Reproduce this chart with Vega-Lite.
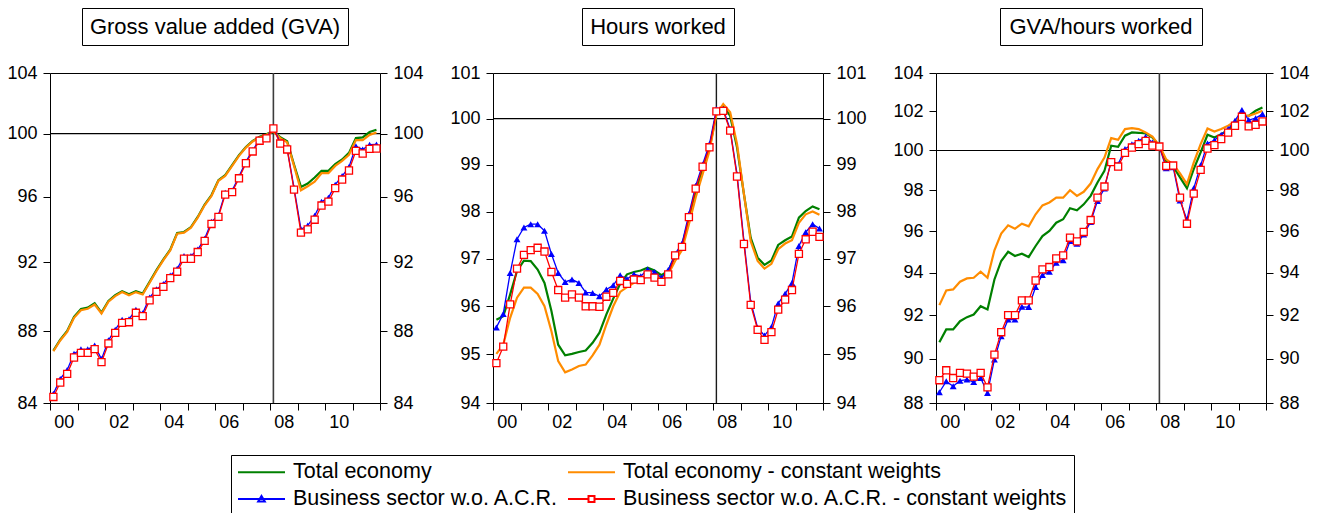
{
"$schema": "https://vega.github.io/schema/vega-lite/v6.json",
"background": "white",
"padding": {"left": 6, "top": 7, "right": 5, "bottom": 0},
"config": {
  "font": "Liberation Sans",
  "view": {"stroke": "black", "strokeWidth": 1},
  "axis": {"labelFont": "Liberation Sans", "labelFontSize": 18, "labelColor": "black", "tickColor": "black", "tickSize": 7, "tickWidth": 1, "domain": false, "grid": false, "title": null, "labelOverlap": false, "labelFlush": false, "labelPadding": 6}
},
"datasets": {
"g_te": [{"series":"Total economy","date":"2000-02-15","value":86.90},{"series":"Total economy","date":"2000-05-16","value":87.52},{"series":"Total economy","date":"2000-08-16","value":88.01},{"series":"Total economy","date":"2000-11-15","value":88.82},{"series":"Total economy","date":"2001-02-15","value":89.27},{"series":"Total economy","date":"2001-05-16","value":89.35},{"series":"Total economy","date":"2001-08-16","value":89.60},{"series":"Total economy","date":"2001-11-15","value":89.06},{"series":"Total economy","date":"2002-02-15","value":89.74},{"series":"Total economy","date":"2002-05-16","value":90.07},{"series":"Total economy","date":"2002-08-16","value":90.30},{"series":"Total economy","date":"2002-11-15","value":90.12},{"series":"Total economy","date":"2003-02-15","value":90.30},{"series":"Total economy","date":"2003-05-16","value":90.16},{"series":"Total economy","date":"2003-08-16","value":90.85},{"series":"Total economy","date":"2003-11-15","value":91.54},{"series":"Total economy","date":"2004-02-15","value":92.18},{"series":"Total economy","date":"2004-05-16","value":92.76},{"series":"Total economy","date":"2004-08-16","value":93.77},{"series":"Total economy","date":"2004-11-15","value":93.83},{"series":"Total economy","date":"2005-02-15","value":94.13},{"series":"Total economy","date":"2005-05-16","value":94.75},{"series":"Total economy","date":"2005-08-16","value":95.51},{"series":"Total economy","date":"2005-11-15","value":96.10},{"series":"Total economy","date":"2006-02-15","value":97.03},{"series":"Total economy","date":"2006-05-16","value":97.35},{"series":"Total economy","date":"2006-08-16","value":97.98},{"series":"Total economy","date":"2006-11-15","value":98.62},{"series":"Total economy","date":"2007-02-15","value":99.14},{"series":"Total economy","date":"2007-05-16","value":99.53},{"series":"Total economy","date":"2007-08-16","value":99.79},{"series":"Total economy","date":"2007-11-15","value":99.96},{"series":"Total economy","date":"2008-02-15","value":100.18},{"series":"Total economy","date":"2008-05-16","value":99.76},{"series":"Total economy","date":"2008-08-16","value":99.50},{"series":"Total economy","date":"2008-11-15","value":98.02},{"series":"Total economy","date":"2009-02-15","value":96.61},{"series":"Total economy","date":"2009-05-16","value":96.82},{"series":"Total economy","date":"2009-08-16","value":97.20},{"series":"Total economy","date":"2009-11-15","value":97.62},{"series":"Total economy","date":"2010-02-15","value":97.62},{"series":"Total economy","date":"2010-05-16","value":98.04},{"series":"Total economy","date":"2010-08-16","value":98.34},{"series":"Total economy","date":"2010-11-15","value":98.76},{"series":"Total economy","date":"2011-02-15","value":99.71},{"series":"Total economy","date":"2011-05-16","value":99.75},{"series":"Total economy","date":"2011-08-16","value":100.10},{"series":"Total economy","date":"2011-11-15","value":100.25}],
"g_tec": [{"date":"2000-02-15","value":86.86},{"date":"2000-05-16","value":87.47},{"date":"2000-08-16","value":87.96},{"date":"2000-11-15","value":88.76},{"date":"2001-02-15","value":89.20},{"date":"2001-05-16","value":89.28},{"date":"2001-08-16","value":89.53},{"date":"2001-11-15","value":89.01},{"date":"2002-02-15","value":89.69},{"date":"2002-05-16","value":90.02},{"date":"2002-08-16","value":90.25},{"date":"2002-11-15","value":90.06},{"date":"2003-02-15","value":90.25},{"date":"2003-05-16","value":90.11},{"date":"2003-08-16","value":90.80},{"date":"2003-11-15","value":91.49},{"date":"2004-02-15","value":92.14},{"date":"2004-05-16","value":92.72},{"date":"2004-08-16","value":93.73},{"date":"2004-11-15","value":93.79},{"date":"2005-02-15","value":94.09},{"date":"2005-05-16","value":94.71},{"date":"2005-08-16","value":95.47},{"date":"2005-11-15","value":96.05},{"date":"2006-02-15","value":96.99},{"date":"2006-05-16","value":97.30},{"date":"2006-08-16","value":97.93},{"date":"2006-11-15","value":98.57},{"date":"2007-02-15","value":99.10},{"date":"2007-05-16","value":99.49},{"date":"2007-08-16","value":99.75},{"date":"2007-11-15","value":99.92},{"date":"2008-02-15","value":100.14},{"date":"2008-05-16","value":99.71},{"date":"2008-08-16","value":99.43},{"date":"2008-11-15","value":97.93},{"date":"2009-02-15","value":96.40},{"date":"2009-05-16","value":96.65},{"date":"2009-08-16","value":96.94},{"date":"2009-11-15","value":97.47},{"date":"2010-02-15","value":97.47},{"date":"2010-05-16","value":97.93},{"date":"2010-08-16","value":98.25},{"date":"2010-11-15","value":98.64},{"date":"2011-02-15","value":99.58},{"date":"2011-05-16","value":99.58},{"date":"2011-08-16","value":99.92},{"date":"2011-11-15","value":100.07}],
"g_bs": [{"date":"2000-02-15","value":84.50},{"date":"2000-05-16","value":85.32},{"date":"2000-08-16","value":85.82},{"date":"2000-11-15","value":86.72},{"date":"2001-02-15","value":86.97},{"date":"2001-05-16","value":86.97},{"date":"2001-08-16","value":87.18},{"date":"2001-11-15","value":86.42},{"date":"2002-02-15","value":87.48},{"date":"2002-05-16","value":88.08},{"date":"2002-08-16","value":88.65},{"date":"2002-11-15","value":88.68},{"date":"2003-02-15","value":89.22},{"date":"2003-05-16","value":89.02},{"date":"2003-08-16","value":89.93},{"date":"2003-11-15","value":90.42},{"date":"2004-02-15","value":90.72},{"date":"2004-05-16","value":91.22},{"date":"2004-08-16","value":91.62},{"date":"2004-11-15","value":92.38},{"date":"2005-02-15","value":92.38},{"date":"2005-05-16","value":92.77},{"date":"2005-08-16","value":93.42},{"date":"2005-11-15","value":94.45},{"date":"2006-02-15","value":94.86},{"date":"2006-05-16","value":96.25},{"date":"2006-08-16","value":96.38},{"date":"2006-11-15","value":97.26},{"date":"2007-02-15","value":98.20},{"date":"2007-05-16","value":98.93},{"date":"2007-08-16","value":99.62},{"date":"2007-11-15","value":99.76},{"date":"2008-02-15","value":100.40},{"date":"2008-05-16","value":99.42},{"date":"2008-08-16","value":99.04},{"date":"2008-11-15","value":96.55},{"date":"2009-02-15","value":94.00},{"date":"2009-05-16","value":94.22},{"date":"2009-08-16","value":94.82},{"date":"2009-11-15","value":95.68},{"date":"2010-02-15","value":95.93},{"date":"2010-05-16","value":96.75},{"date":"2010-08-16","value":97.29},{"date":"2010-11-15","value":97.86},{"date":"2011-02-15","value":99.18},{"date":"2011-05-16","value":98.98},{"date":"2011-08-16","value":99.28},{"date":"2011-11-15","value":99.30}],
"g_bsc": [{"date":"2000-02-15","value":84.33},{"date":"2000-05-16","value":85.12},{"date":"2000-08-16","value":85.60},{"date":"2000-11-15","value":86.51},{"date":"2001-02-15","value":86.77},{"date":"2001-05-16","value":86.77},{"date":"2001-08-16","value":86.98},{"date":"2001-11-15","value":86.25},{"date":"2002-02-15","value":87.30},{"date":"2002-05-16","value":87.90},{"date":"2002-08-16","value":88.47},{"date":"2002-11-15","value":88.51},{"date":"2003-02-15","value":89.05},{"date":"2003-05-16","value":88.86},{"date":"2003-08-16","value":89.77},{"date":"2003-11-15","value":90.27},{"date":"2004-02-15","value":90.56},{"date":"2004-05-16","value":91.07},{"date":"2004-08-16","value":91.45},{"date":"2004-11-15","value":92.22},{"date":"2005-02-15","value":92.22},{"date":"2005-05-16","value":92.62},{"date":"2005-08-16","value":93.29},{"date":"2005-11-15","value":94.32},{"date":"2006-02-15","value":94.75},{"date":"2006-05-16","value":96.13},{"date":"2006-08-16","value":96.28},{"date":"2006-11-15","value":97.15},{"date":"2007-02-15","value":98.10},{"date":"2007-05-16","value":98.85},{"date":"2007-08-16","value":99.54},{"date":"2007-11-15","value":99.69},{"date":"2008-02-15","value":100.33},{"date":"2008-05-16","value":99.36},{"date":"2008-08-16","value":98.98},{"date":"2008-11-15","value":96.44},{"date":"2009-02-15","value":93.79},{"date":"2009-05-16","value":93.99},{"date":"2009-08-16","value":94.58},{"date":"2009-11-15","value":95.45},{"date":"2010-02-15","value":95.69},{"date":"2010-05-16","value":96.53},{"date":"2010-08-16","value":97.07},{"date":"2010-11-15","value":97.64},{"date":"2011-02-15","value":98.89},{"date":"2011-05-16","value":98.72},{"date":"2011-08-16","value":99.02},{"date":"2011-11-15","value":99.04}],
"h_te": [{"date":"2000-02-15","value":95.72},{"date":"2000-05-16","value":95.79},{"date":"2000-08-16","value":96.25},{"date":"2000-11-15","value":96.74},{"date":"2001-02-15","value":96.96},{"date":"2001-05-16","value":96.95},{"date":"2001-08-16","value":96.77},{"date":"2001-11-15","value":96.49},{"date":"2002-02-15","value":95.90},{"date":"2002-05-16","value":95.20},{"date":"2002-08-16","value":94.98},{"date":"2002-11-15","value":95.01},{"date":"2003-02-15","value":95.05},{"date":"2003-05-16","value":95.08},{"date":"2003-08-16","value":95.24},{"date":"2003-11-15","value":95.45},{"date":"2004-02-15","value":95.83},{"date":"2004-05-16","value":96.16},{"date":"2004-08-16","value":96.47},{"date":"2004-11-15","value":96.67},{"date":"2005-02-15","value":96.72},{"date":"2005-05-16","value":96.75},{"date":"2005-08-16","value":96.81},{"date":"2005-11-15","value":96.75},{"date":"2006-02-15","value":96.65},{"date":"2006-05-16","value":96.74},{"date":"2006-08-16","value":97.05},{"date":"2006-11-15","value":97.27},{"date":"2007-02-15","value":97.83},{"date":"2007-05-16","value":98.41},{"date":"2007-08-16","value":98.91},{"date":"2007-11-15","value":99.36},{"date":"2008-02-15","value":100.10},{"date":"2008-05-16","value":100.28},{"date":"2008-08-16","value":100.06},{"date":"2008-11-15","value":99.38},{"date":"2009-02-15","value":98.37},{"date":"2009-05-16","value":97.44},{"date":"2009-08-16","value":97.02},{"date":"2009-11-15","value":96.87},{"date":"2010-02-15","value":96.96},{"date":"2010-05-16","value":97.29},{"date":"2010-08-16","value":97.39},{"date":"2010-11-15","value":97.47},{"date":"2011-02-15","value":97.87},{"date":"2011-05-16","value":98.01},{"date":"2011-08-16","value":98.11},{"date":"2011-11-15","value":98.05}],
"h_tec": [{"date":"2000-02-15","value":95.01},{"date":"2000-05-16","value":95.20},{"date":"2000-08-16","value":95.76},{"date":"2000-11-15","value":96.18},{"date":"2001-02-15","value":96.39},{"date":"2001-05-16","value":96.39},{"date":"2001-08-16","value":96.26},{"date":"2001-11-15","value":96.00},{"date":"2002-02-15","value":95.48},{"date":"2002-05-16","value":94.86},{"date":"2002-08-16","value":94.63},{"date":"2002-11-15","value":94.69},{"date":"2003-02-15","value":94.76},{"date":"2003-05-16","value":94.79},{"date":"2003-08-16","value":94.98},{"date":"2003-11-15","value":95.20},{"date":"2004-02-15","value":95.62},{"date":"2004-05-16","value":96.00},{"date":"2004-08-16","value":96.30},{"date":"2004-11-15","value":96.40},{"date":"2005-02-15","value":96.49},{"date":"2005-05-16","value":96.56},{"date":"2005-08-16","value":96.63},{"date":"2005-11-15","value":96.63},{"date":"2006-02-15","value":96.60},{"date":"2006-05-16","value":96.67},{"date":"2006-08-16","value":96.95},{"date":"2006-11-15","value":97.18},{"date":"2007-02-15","value":97.73},{"date":"2007-05-16","value":98.30},{"date":"2007-08-16","value":98.80},{"date":"2007-11-15","value":99.30},{"date":"2008-02-15","value":100.10},{"date":"2008-05-16","value":100.32},{"date":"2008-08-16","value":100.14},{"date":"2008-11-15","value":99.45},{"date":"2009-02-15","value":98.37},{"date":"2009-05-16","value":97.37},{"date":"2009-08-16","value":96.95},{"date":"2009-11-15","value":96.79},{"date":"2010-02-15","value":96.89},{"date":"2010-05-16","value":97.20},{"date":"2010-08-16","value":97.32},{"date":"2010-11-15","value":97.39},{"date":"2011-02-15","value":97.76},{"date":"2011-05-16","value":97.94},{"date":"2011-08-16","value":98.00},{"date":"2011-11-15","value":97.93}],
"h_bs": [{"date":"2000-02-15","value":95.56},{"date":"2000-05-16","value":95.84},{"date":"2000-08-16","value":96.70},{"date":"2000-11-15","value":97.41},{"date":"2001-02-15","value":97.66},{"date":"2001-05-16","value":97.73},{"date":"2001-08-16","value":97.73},{"date":"2001-11-15","value":97.59},{"date":"2002-02-15","value":97.10},{"date":"2002-05-16","value":96.70},{"date":"2002-08-16","value":96.51},{"date":"2002-11-15","value":96.56},{"date":"2003-02-15","value":96.49},{"date":"2003-05-16","value":96.29},{"date":"2003-08-16","value":96.28},{"date":"2003-11-15","value":96.21},{"date":"2004-02-15","value":96.35},{"date":"2004-05-16","value":96.44},{"date":"2004-08-16","value":96.65},{"date":"2004-11-15","value":96.57},{"date":"2005-02-15","value":96.67},{"date":"2005-05-16","value":96.63},{"date":"2005-08-16","value":96.77},{"date":"2005-11-15","value":96.72},{"date":"2006-02-15","value":96.60},{"date":"2006-05-16","value":96.76},{"date":"2006-08-16","value":97.10},{"date":"2006-11-15","value":97.32},{"date":"2007-02-15","value":97.95},{"date":"2007-05-16","value":98.55},{"date":"2007-08-16","value":99.01},{"date":"2007-11-15","value":99.45},{"date":"2008-02-15","value":100.21},{"date":"2008-05-16","value":100.21},{"date":"2008-08-16","value":99.77},{"date":"2008-11-15","value":98.80},{"date":"2009-02-15","value":97.37},{"date":"2009-05-16","value":96.09},{"date":"2009-08-16","value":95.55},{"date":"2009-11-15","value":95.39},{"date":"2010-02-15","value":95.57},{"date":"2010-05-16","value":96.06},{"date":"2010-08-16","value":96.26},{"date":"2010-11-15","value":96.49},{"date":"2011-02-15","value":97.27},{"date":"2011-05-16","value":97.56},{"date":"2011-08-16","value":97.73},{"date":"2011-11-15","value":97.64}],
"h_bsc": [{"date":"2000-02-15","value":94.82},{"date":"2000-05-16","value":95.16},{"date":"2000-08-16","value":96.04},{"date":"2000-11-15","value":96.79},{"date":"2001-02-15","value":97.08},{"date":"2001-05-16","value":97.18},{"date":"2001-08-16","value":97.23},{"date":"2001-11-15","value":97.15},{"date":"2002-02-15","value":96.72},{"date":"2002-05-16","value":96.34},{"date":"2002-08-16","value":96.18},{"date":"2002-11-15","value":96.25},{"date":"2003-02-15","value":96.18},{"date":"2003-05-16","value":96.00},{"date":"2003-08-16","value":96.00},{"date":"2003-11-15","value":95.99},{"date":"2004-02-15","value":96.20},{"date":"2004-05-16","value":96.28},{"date":"2004-08-16","value":96.53},{"date":"2004-11-15","value":96.47},{"date":"2005-02-15","value":96.56},{"date":"2005-05-16","value":96.55},{"date":"2005-08-16","value":96.67},{"date":"2005-11-15","value":96.60},{"date":"2006-02-15","value":96.51},{"date":"2006-05-16","value":96.67},{"date":"2006-08-16","value":97.07},{"date":"2006-11-15","value":97.25},{"date":"2007-02-15","value":97.88},{"date":"2007-05-16","value":98.49},{"date":"2007-08-16","value":98.96},{"date":"2007-11-15","value":99.38},{"date":"2008-02-15","value":100.16},{"date":"2008-05-16","value":100.17},{"date":"2008-08-16","value":99.74},{"date":"2008-11-15","value":98.75},{"date":"2009-02-15","value":97.31},{"date":"2009-05-16","value":96.03},{"date":"2009-08-16","value":95.51},{"date":"2009-11-15","value":95.30},{"date":"2010-02-15","value":95.46},{"date":"2010-05-16","value":95.93},{"date":"2010-08-16","value":96.14},{"date":"2010-11-15","value":96.34},{"date":"2011-02-15","value":97.10},{"date":"2011-05-16","value":97.41},{"date":"2011-08-16","value":97.57},{"date":"2011-11-15","value":97.46}],
"p_te": [{"date":"2000-02-15","value":90.75},{"date":"2000-05-16","value":91.34},{"date":"2000-08-16","value":91.34},{"date":"2000-11-15","value":91.72},{"date":"2001-02-15","value":91.91},{"date":"2001-05-16","value":92.03},{"date":"2001-08-16","value":92.42},{"date":"2001-11-15","value":92.27},{"date":"2002-02-15","value":93.68},{"date":"2002-05-16","value":94.56},{"date":"2002-08-16","value":95.00},{"date":"2002-11-15","value":94.80},{"date":"2003-02-15","value":94.91},{"date":"2003-05-16","value":94.75},{"date":"2003-08-16","value":95.28},{"date":"2003-11-15","value":95.76},{"date":"2004-02-15","value":96.01},{"date":"2004-05-16","value":96.41},{"date":"2004-08-16","value":96.58},{"date":"2004-11-15","value":97.12},{"date":"2005-02-15","value":97.02},{"date":"2005-05-16","value":97.31},{"date":"2005-08-16","value":97.73},{"date":"2005-11-15","value":98.39},{"date":"2006-02-15","value":98.97},{"date":"2006-05-16","value":100.24},{"date":"2006-08-16","value":100.19},{"date":"2006-11-15","value":100.75},{"date":"2007-02-15","value":100.92},{"date":"2007-05-16","value":100.90},{"date":"2007-08-16","value":100.87},{"date":"2007-11-15","value":100.66},{"date":"2008-02-15","value":100.24},{"date":"2008-05-16","value":99.45},{"date":"2008-08-16","value":99.20},{"date":"2008-11-15","value":98.65},{"date":"2009-02-15","value":98.11},{"date":"2009-05-16","value":99.06},{"date":"2009-08-16","value":99.90},{"date":"2009-11-15","value":100.80},{"date":"2010-02-15","value":100.66},{"date":"2010-05-16","value":100.83},{"date":"2010-08-16","value":101.04},{"date":"2010-11-15","value":101.38},{"date":"2011-02-15","value":101.77},{"date":"2011-05-16","value":101.77},{"date":"2011-08-16","value":102.03},{"date":"2011-11-15","value":102.20}],
"p_tec": [{"date":"2000-02-15","value":92.47},{"date":"2000-05-16","value":93.16},{"date":"2000-08-16","value":93.21},{"date":"2000-11-15","value":93.57},{"date":"2001-02-15","value":93.73},{"date":"2001-05-16","value":93.76},{"date":"2001-08-16","value":94.05},{"date":"2001-11-15","value":93.76},{"date":"2002-02-15","value":95.07},{"date":"2002-05-16","value":95.88},{"date":"2002-08-16","value":96.28},{"date":"2002-11-15","value":96.12},{"date":"2003-02-15","value":96.36},{"date":"2003-05-16","value":96.23},{"date":"2003-08-16","value":96.82},{"date":"2003-11-15","value":97.26},{"date":"2004-02-15","value":97.40},{"date":"2004-05-16","value":97.64},{"date":"2004-08-16","value":97.64},{"date":"2004-11-15","value":98.01},{"date":"2005-02-15","value":97.73},{"date":"2005-05-16","value":97.93},{"date":"2005-08-16","value":98.34},{"date":"2005-11-15","value":99.06},{"date":"2006-02-15","value":99.64},{"date":"2006-05-16","value":100.63},{"date":"2006-08-16","value":100.54},{"date":"2006-11-15","value":101.09},{"date":"2007-02-15","value":101.14},{"date":"2007-05-16","value":101.09},{"date":"2007-08-16","value":100.92},{"date":"2007-11-15","value":100.70},{"date":"2008-02-15","value":100.24},{"date":"2008-05-16","value":99.55},{"date":"2008-08-16","value":99.30},{"date":"2008-11-15","value":98.85},{"date":"2009-02-15","value":98.31},{"date":"2009-05-16","value":99.39},{"date":"2009-08-16","value":100.32},{"date":"2009-11-15","value":101.12},{"date":"2010-02-15","value":100.96},{"date":"2010-05-16","value":101.09},{"date":"2010-08-16","value":101.26},{"date":"2010-11-15","value":101.48},{"date":"2011-02-15","value":101.77},{"date":"2011-05-16","value":101.77},{"date":"2011-08-16","value":101.89},{"date":"2011-11-15","value":102.03}],
"p_bs": [{"date":"2000-02-15","value":88.48},{"date":"2000-05-16","value":88.97},{"date":"2000-08-16","value":88.75},{"date":"2000-11-15","value":89.00},{"date":"2001-02-15","value":89.05},{"date":"2001-05-16","value":88.94},{"date":"2001-08-16","value":89.12},{"date":"2001-11-15","value":88.45},{"date":"2002-02-15","value":89.96},{"date":"2002-05-16","value":91.03},{"date":"2002-08-16","value":91.80},{"date":"2002-11-15","value":91.80},{"date":"2003-02-15","value":92.39},{"date":"2003-05-16","value":92.38},{"date":"2003-08-16","value":93.32},{"date":"2003-11-15","value":93.89},{"date":"2004-02-15","value":94.05},{"date":"2004-05-16","value":94.48},{"date":"2004-08-16","value":94.60},{"date":"2004-11-15","value":95.52},{"date":"2005-02-15","value":95.39},{"date":"2005-05-16","value":95.84},{"date":"2005-08-16","value":96.45},{"date":"2005-11-15","value":97.48},{"date":"2006-02-15","value":98.09},{"date":"2006-05-16","value":99.48},{"date":"2006-08-16","value":99.31},{"date":"2006-11-15","value":100.07},{"date":"2007-02-15","value":100.32},{"date":"2007-05-16","value":100.49},{"date":"2007-08-16","value":100.70},{"date":"2007-11-15","value":100.41},{"date":"2008-02-15","value":100.18},{"date":"2008-05-16","value":99.11},{"date":"2008-08-16","value":99.16},{"date":"2008-11-15","value":97.50},{"date":"2009-02-15","value":96.55},{"date":"2009-05-16","value":98.10},{"date":"2009-08-16","value":99.25},{"date":"2009-11-15","value":100.35},{"date":"2010-02-15","value":100.52},{"date":"2010-05-16","value":100.80},{"date":"2010-08-16","value":101.09},{"date":"2010-11-15","value":101.52},{"date":"2011-02-15","value":102.07},{"date":"2011-05-16","value":101.55},{"date":"2011-08-16","value":101.65},{"date":"2011-11-15","value":101.86}],
"p_bsc": [{"date":"2000-02-15","value":89.02},{"date":"2000-05-16","value":89.47},{"date":"2000-08-16","value":89.12},{"date":"2000-11-15","value":89.35},{"date":"2001-02-15","value":89.32},{"date":"2001-05-16","value":89.18},{"date":"2001-08-16","value":89.35},{"date":"2001-11-15","value":88.70},{"date":"2002-02-15","value":90.18},{"date":"2002-05-16","value":91.21},{"date":"2002-08-16","value":92.00},{"date":"2002-11-15","value":92.00},{"date":"2003-02-15","value":92.69},{"date":"2003-05-16","value":92.69},{"date":"2003-08-16","value":93.63},{"date":"2003-11-15","value":94.16},{"date":"2004-02-15","value":94.27},{"date":"2004-05-16","value":94.68},{"date":"2004-08-16","value":94.83},{"date":"2004-11-15","value":95.68},{"date":"2005-02-15","value":95.50},{"date":"2005-05-16","value":95.96},{"date":"2005-08-16","value":96.54},{"date":"2005-11-15","value":97.64},{"date":"2006-02-15","value":98.19},{"date":"2006-05-16","value":99.41},{"date":"2006-08-16","value":99.19},{"date":"2006-11-15","value":99.88},{"date":"2007-02-15","value":100.15},{"date":"2007-05-16","value":100.32},{"date":"2007-08-16","value":100.49},{"date":"2007-11-15","value":100.25},{"date":"2008-02-15","value":100.20},{"date":"2008-05-16","value":99.22},{"date":"2008-08-16","value":99.24},{"date":"2008-11-15","value":97.64},{"date":"2009-02-15","value":96.36},{"date":"2009-05-16","value":97.84},{"date":"2009-08-16","value":99.02},{"date":"2009-11-15","value":100.10},{"date":"2010-02-15","value":100.27},{"date":"2010-05-16","value":100.58},{"date":"2010-08-16","value":100.91},{"date":"2010-11-15","value":101.26},{"date":"2011-02-15","value":101.72},{"date":"2011-05-16","value":101.23},{"date":"2011-08-16","value":101.31},{"date":"2011-11-15","value":101.48}]
},
"spacing": 25,
"hconcat": [
{
 "spacing": 28, "bounds": "flush", "center": true,
 "vconcat": [
  {"width": 266, "height": 37, "view": {"stroke": "black"}, "data": {"values": [{"title": "Gross value added (GVA)"}]}, "mark": {"type": "text", "font": "Liberation Sans", "fontSize": 22, "color": "black"}, "encoding": {"text": {"field": "title"}}},
  {"width": 330, "height": 330,
   "resolve": {"axis": {"x": "independent", "y": "independent"}},
   "layer": [
    {"data": {"values": [{"ref": 100}]}, "mark": {"type": "rule", "color": "black", "strokeWidth": 1.2}, "encoding": {"y": {"field": "ref", "type": "quantitative", "scale": {"type": "log", "domain": [84, 104], "nice": false}, "axis": {"orient": "left", "values": [84, 88, 92, 96, 100, 104], "format": "d"}}}},
    {"data": {"values": [{"date": "2008-02-15"}]}, "mark": {"type": "rule", "color": "#3c3c3c", "strokeWidth": 1.6}, "encoding": {"x": {"field": "date", "type": "temporal", "scale": {"domain": [{"year": 2000, "month": 1, "date": 1}, {"year": 2012, "month": 1, "date": 1}], "nice": false}, "axis": {"orient": "bottom", "tickCount": {"interval": "year", "step": 1}, "labelExpr": "year(datum.value) % 2 === 0 && year(datum.value) < 2012 ? timeFormat(datum.value, '%y') : ''", "labelOffset": 13.75, "labelPadding": 3}}}},
    {"data": {"name": "g_te"}, "mark": {"type": "line", "strokeWidth": 2.2, "color": "#008000"},
     "encoding": {"x": {"field": "date", "type": "temporal", "scale": {"domain": [{"year": 2000, "month": 1, "date": 1}, {"year": 2012, "month": 1, "date": 1}], "nice": false}, "axis": null},
      "y": {"field": "value", "type": "quantitative", "scale": {"type": "log", "domain": [84, 104], "nice": false}, "axis": {"orient": "right", "values": [84, 88, 92, 96, 100, 104], "format": "d"}}}},
    {"data": {"name": "g_tec"}, "mark": {"type": "line", "strokeWidth": 2.2, "color": "#ff8c00"},
     "encoding": {"x": {"field": "date", "type": "temporal", "scale": {"domain": [{"year": 2000, "month": 1, "date": 1}, {"year": 2012, "month": 1, "date": 1}], "nice": false}, "axis": null}, "y": {"field": "value", "type": "quantitative", "scale": {"type": "log", "domain": [84, 104], "nice": false}, "axis": null}}},
    {"data": {"name": "g_bs"}, "mark": {"type": "line", "strokeWidth": 1.3, "color": "#0000ff", "point": {"shape": "triangle-up", "filled": true, "size": 48, "color": "#0000ff"}},
     "encoding": {"x": {"field": "date", "type": "temporal", "scale": {"domain": [{"year": 2000, "month": 1, "date": 1}, {"year": 2012, "month": 1, "date": 1}], "nice": false}, "axis": null}, "y": {"field": "value", "type": "quantitative", "scale": {"type": "log", "domain": [84, 104], "nice": false}, "axis": null}}},
    {"data": {"name": "g_bsc"}, "mark": {"type": "line", "strokeWidth": 1.3, "color": "#ff0000", "point": {"shape": "square", "filled": true, "fill": "white", "stroke": "#ff0000", "strokeWidth": 1.3, "size": 50}},
     "encoding": {"x": {"field": "date", "type": "temporal", "scale": {"domain": [{"year": 2000, "month": 1, "date": 1}, {"year": 2012, "month": 1, "date": 1}], "nice": false}, "axis": null}, "y": {"field": "value", "type": "quantitative", "scale": {"type": "log", "domain": [84, 104], "nice": false}, "axis": null}}},
    {"data": {"name": "g_te"}, "transform": [{"filter": "false"}], "mark": {"type": "point", "filled": false, "strokeWidth": 2},
     "encoding": {
      "color": {"field": "series", "type": "nominal",
        "scale": {"domain": ["Total economy", "Total economy - constant weights", "Business sector w.o. A.C.R.", "Business sector w.o. A.C.R. - constant weights"], "range": ["#008000", "#ff8c00", "#0000ff", "#ff0000"]},
        "legend": {"title": null, "orient": "none", "legendX": 181, "legendY": 447, "direction": "horizontal", "columns": 2, "symbolSize": 400, "symbolStrokeWidth": 2, "symbolOpacity": 1,
          "labelFont": "Liberation Sans", "labelFontSize": 21.5, "labelColor": "black", "labelLimit": 600, "labelOffset": 34, "columnPadding": 5, "rowPadding": 5, "padding": 6, "strokeColor": "black", "fillColor": "white"}},
      "shape": {"field": "series", "type": "nominal",
        "scale": {"domain": ["Total economy", "Total economy - constant weights", "Business sector w.o. A.C.R.", "Business sector w.o. A.C.R. - constant weights"], "range": ["M-1,0H3.7", "M-1,0H3.7", "M-1,0H3.7M1.35,-0.3L1.68,0.24L1.02,0.24Z", "M-1,0H1.05M1.65,0H3.7M1.05,-0.3H1.65V0.3H1.05Z"]},
        "legend": {"title": null, "orient": "none", "legendX": 181, "legendY": 447, "direction": "horizontal", "columns": 2, "symbolSize": 400, "symbolStrokeWidth": 2, "symbolOpacity": 1,
          "labelFont": "Liberation Sans", "labelFontSize": 21.5, "labelColor": "black", "labelLimit": 600, "labelOffset": 34, "columnPadding": 5, "rowPadding": 5, "padding": 6, "strokeColor": "black", "fillColor": "white"}}
     }}
   ]}
 ]
},
{
 "spacing": 28, "bounds": "flush", "center": true,
 "vconcat": [
  {"width": 152, "height": 37, "view": {"stroke": "black"}, "data": {"values": [{"title": "Hours worked"}]}, "mark": {"type": "text", "font": "Liberation Sans", "fontSize": 22, "color": "black"}, "encoding": {"text": {"field": "title"}}},
  {"width": 330, "height": 330,
   "resolve": {"axis": {"x": "independent", "y": "independent"}},
   "layer": [
    {"data": {"values": [{"ref": 100}]}, "mark": {"type": "rule", "color": "black", "strokeWidth": 1.2}, "encoding": {"y": {"field": "ref", "type": "quantitative", "scale": {"type": "log", "domain": [94, 101], "nice": false}, "axis": {"orient": "left", "values": [94, 95, 96, 97, 98, 99, 100, 101], "format": "d"}}}},
    {"data": {"values": [{"date": "2008-02-15"}]}, "mark": {"type": "rule", "color": "#1a1a1a", "strokeWidth": 1.4}, "encoding": {"x": {"field": "date", "type": "temporal", "scale": {"domain": [{"year": 2000, "month": 1, "date": 1}, {"year": 2012, "month": 1, "date": 1}], "nice": false}, "axis": {"orient": "bottom", "tickCount": {"interval": "year", "step": 1}, "labelExpr": "year(datum.value) % 2 === 0 && year(datum.value) < 2012 ? timeFormat(datum.value, '%y') : ''", "labelOffset": 13.75, "labelPadding": 3}}}},
    {"data": {"name": "h_te"}, "mark": {"type": "line", "strokeWidth": 2.2, "color": "#008000"},
     "encoding": {"x": {"field": "date", "type": "temporal", "scale": {"domain": [{"year": 2000, "month": 1, "date": 1}, {"year": 2012, "month": 1, "date": 1}], "nice": false}, "axis": null}, "y": {"field": "value", "type": "quantitative", "scale": {"type": "log", "domain": [94, 101], "nice": false}, "axis": {"orient": "right", "values": [94, 95, 96, 97, 98, 99, 100, 101], "format": "d"}}}},
    {"data": {"name": "h_tec"}, "mark": {"type": "line", "strokeWidth": 2.2, "color": "#ff8c00"},
     "encoding": {"x": {"field": "date", "type": "temporal", "scale": {"domain": [{"year": 2000, "month": 1, "date": 1}, {"year": 2012, "month": 1, "date": 1}], "nice": false}, "axis": null}, "y": {"field": "value", "type": "quantitative", "scale": {"type": "log", "domain": [94, 101], "nice": false}, "axis": null}}},
    {"data": {"name": "h_bs"}, "mark": {"type": "line", "strokeWidth": 1.3, "color": "#0000ff", "point": {"shape": "triangle-up", "filled": true, "size": 48, "color": "#0000ff"}},
     "encoding": {"x": {"field": "date", "type": "temporal", "scale": {"domain": [{"year": 2000, "month": 1, "date": 1}, {"year": 2012, "month": 1, "date": 1}], "nice": false}, "axis": null}, "y": {"field": "value", "type": "quantitative", "scale": {"type": "log", "domain": [94, 101], "nice": false}, "axis": null}}},
    {"data": {"name": "h_bsc"}, "mark": {"type": "line", "strokeWidth": 1.3, "color": "#ff0000", "point": {"shape": "square", "filled": true, "fill": "white", "stroke": "#ff0000", "strokeWidth": 1.3, "size": 50}},
     "encoding": {"x": {"field": "date", "type": "temporal", "scale": {"domain": [{"year": 2000, "month": 1, "date": 1}, {"year": 2012, "month": 1, "date": 1}], "nice": false}, "axis": null}, "y": {"field": "value", "type": "quantitative", "scale": {"type": "log", "domain": [94, 101], "nice": false}, "axis": null}}}
   ]}
 ]
},
{
 "spacing": 28, "bounds": "flush", "center": true,
 "vconcat": [
  {"width": 202, "height": 37, "view": {"stroke": "black"}, "data": {"values": [{"title": "GVA/hours worked"}]}, "mark": {"type": "text", "font": "Liberation Sans", "fontSize": 22, "color": "black"}, "encoding": {"text": {"field": "title"}}},
  {"width": 330, "height": 330,
   "resolve": {"axis": {"x": "independent", "y": "independent"}},
   "layer": [
    {"data": {"values": [{"ref": 100}]}, "mark": {"type": "rule", "color": "black", "strokeWidth": 1.2}, "encoding": {"y": {"field": "ref", "type": "quantitative", "scale": {"type": "log", "domain": [88, 104], "nice": false}, "axis": {"orient": "left", "values": [88, 90, 92, 94, 96, 98, 100, 102, 104], "format": "d"}}}},
    {"data": {"values": [{"date": "2008-02-15"}]}, "mark": {"type": "rule", "color": "#3c3c3c", "strokeWidth": 1.6}, "encoding": {"x": {"field": "date", "type": "temporal", "scale": {"domain": [{"year": 2000, "month": 1, "date": 1}, {"year": 2012, "month": 1, "date": 1}], "nice": false}, "axis": {"orient": "bottom", "tickCount": {"interval": "year", "step": 1}, "labelExpr": "year(datum.value) % 2 === 0 && year(datum.value) < 2012 ? timeFormat(datum.value, '%y') : ''", "labelOffset": 13.75, "labelPadding": 3}}}},
    {"data": {"name": "p_te"}, "mark": {"type": "line", "strokeWidth": 2.2, "color": "#008000"},
     "encoding": {"x": {"field": "date", "type": "temporal", "scale": {"domain": [{"year": 2000, "month": 1, "date": 1}, {"year": 2012, "month": 1, "date": 1}], "nice": false}, "axis": null}, "y": {"field": "value", "type": "quantitative", "scale": {"type": "log", "domain": [88, 104], "nice": false}, "axis": {"orient": "right", "values": [88, 90, 92, 94, 96, 98, 100, 102, 104], "format": "d"}}}},
    {"data": {"name": "p_tec"}, "mark": {"type": "line", "strokeWidth": 2.2, "color": "#ff8c00"},
     "encoding": {"x": {"field": "date", "type": "temporal", "scale": {"domain": [{"year": 2000, "month": 1, "date": 1}, {"year": 2012, "month": 1, "date": 1}], "nice": false}, "axis": null}, "y": {"field": "value", "type": "quantitative", "scale": {"type": "log", "domain": [88, 104], "nice": false}, "axis": null}}},
    {"data": {"name": "p_bs"}, "mark": {"type": "line", "strokeWidth": 1.3, "color": "#0000ff", "point": {"shape": "triangle-up", "filled": true, "size": 48, "color": "#0000ff"}},
     "encoding": {"x": {"field": "date", "type": "temporal", "scale": {"domain": [{"year": 2000, "month": 1, "date": 1}, {"year": 2012, "month": 1, "date": 1}], "nice": false}, "axis": null}, "y": {"field": "value", "type": "quantitative", "scale": {"type": "log", "domain": [88, 104], "nice": false}, "axis": null}}},
    {"data": {"name": "p_bsc"}, "mark": {"type": "line", "strokeWidth": 1.3, "color": "#ff0000", "point": {"shape": "square", "filled": true, "fill": "white", "stroke": "#ff0000", "strokeWidth": 1.3, "size": 50}},
     "encoding": {"x": {"field": "date", "type": "temporal", "scale": {"domain": [{"year": 2000, "month": 1, "date": 1}, {"year": 2012, "month": 1, "date": 1}], "nice": false}, "axis": null}, "y": {"field": "value", "type": "quantitative", "scale": {"type": "log", "domain": [88, 104], "nice": false}, "axis": null}}}
   ]}
 ]
}
]
}
